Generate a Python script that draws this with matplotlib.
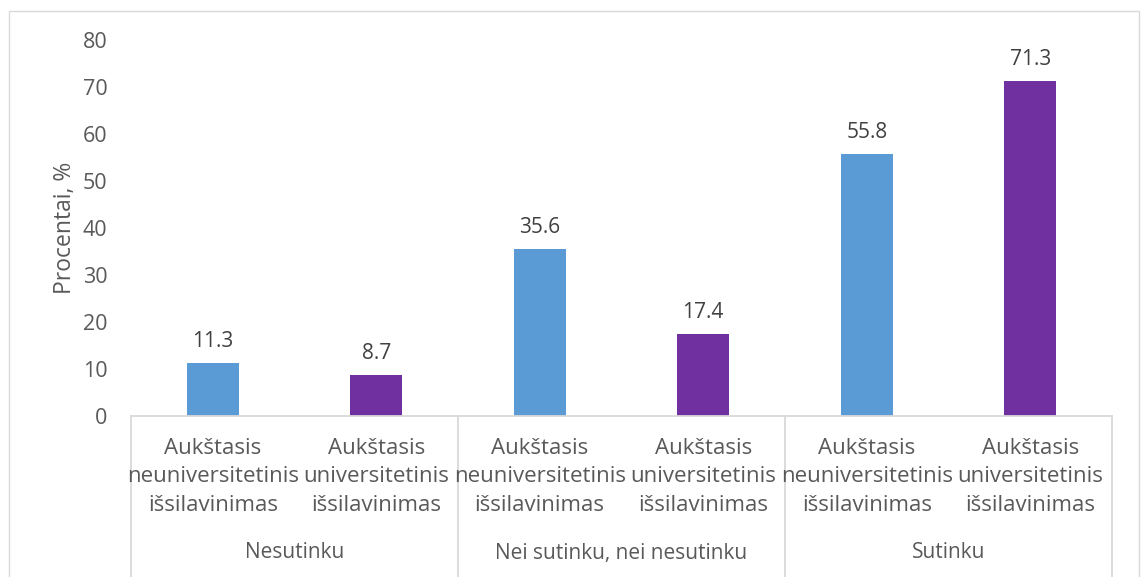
import matplotlib
matplotlib.use("Agg")
import matplotlib.pyplot as plt
from matplotlib.patches import Rectangle
from matplotlib.lines import Line2D

plt.rcParams['font.family'] = ['Open Sans', 'DejaVu Sans']

groups = ["Nesutinku", "Nei sutinku, nei nesutinku", "Sutinku"]
education = ["Aukštasis\nneuniversitetinis\nišsilavinimas",
             "Aukštasis\nuniversitetinis\nišsilavinimas"]
values_nonuni = [11.3, 35.6, 55.8]
values_uni = [8.7, 17.4, 71.3]
colors = ["#5B9BD5", "#7030A0"]
yticks = [0, 10, 20, 30, 40, 50, 60, 70, 80]

W, H = 1141, 577
fig = plt.figure(figsize=(W / 100, H / 100), dpi=100)

# outer chart border
fig.patches.append(Rectangle((9 / W, -0.05), (1139 - 9) / W, (H - 11) / H + 0.05,
                             transform=fig.transFigure, fill=False,
                             edgecolor="#D9D9D9", linewidth=1.0))

x0, x1 = 131, 1112
y0, ytop = 416, 40
ax = fig.add_axes([x0 / W, (H - y0) / H, (x1 - x0) / W, (y0 - ytop) / H])

n_slots = len(groups) * len(education)
ax.set_xlim(0, n_slots)
ax.set_ylim(0, 80)

bar_w = 0.32
series = [values_nonuni, values_uni]
for s, vals in enumerate(series):
    for g, v in enumerate(vals):
        xc = g * 2 + s + 0.5
        ax.bar(xc, v, width=bar_w, color=colors[s], zorder=2)
        ax.annotate(f"{v:.1f}", (xc, v), xytext=(0, 8), textcoords="offset points",
                    ha="center", va="bottom", fontsize=15, color="#404040")

for sp in ax.spines.values():
    sp.set_visible(False)
ax.set_yticks(yticks)
ax.tick_params(axis="y", length=0, pad=17, labelsize=15.5, labelcolor="#595959")
ax.set_xticks([])
ax.set_ylabel("Procentai, %", fontsize=16.5, color="#595959", labelpad=4)

# category axis: baseline and separators
trans = ax.get_xaxis_transform()
ax.add_line(Line2D([0, n_slots], [0, 0], transform=trans, color="#D9D9D9",
                   linewidth=1.3, clip_on=False, zorder=3))
for k in range(len(groups) + 1):
    ax.add_line(Line2D([k * 2, k * 2], [0, -0.5], transform=trans, color="#D9D9D9",
                       linewidth=1.3, clip_on=False))

def fy(py):
    return (y0 - py) / (y0 - ytop)

for g, name in enumerate(groups):
    for s, lab in enumerate(education):
        ax.text(g * 2 + s + 0.5, fy(477), lab, transform=trans, ha="center",
                va="center", fontsize=16, color="#595959", linespacing=1.45)
    ax.text(g * 2 + 1, fy(553), name, transform=trans, ha="center", va="center",
            fontsize=15, color="#595959")

fig.savefig("out.png", dpi=100)
